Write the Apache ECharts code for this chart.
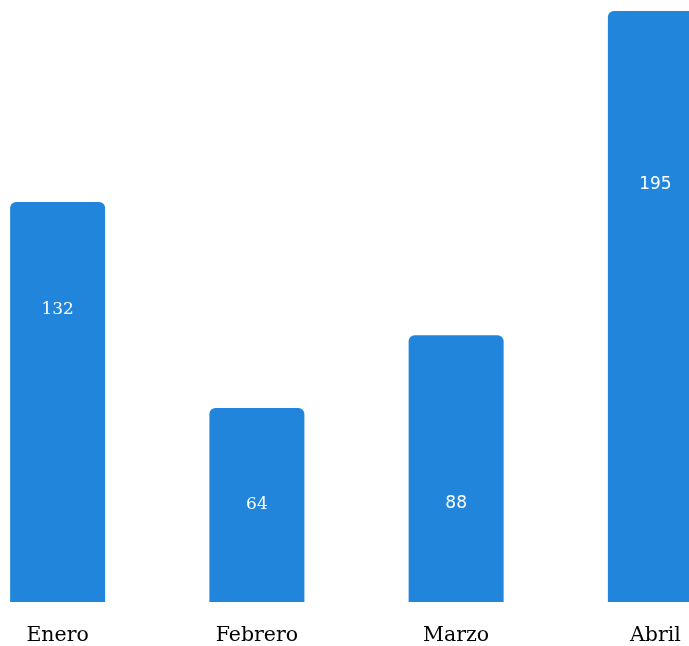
<!DOCTYPE html>
<html>
<head>
<meta charset="utf-8">
<script src="https://cdn.jsdelivr.net/npm/echarts@6/dist/echarts.min.js"></script>
<style>html,body{margin:0;padding:0;background:#fff;overflow:hidden;width:689px;height:646px;position:relative;}#c{position:absolute;left:-42px;top:0;width:797px;height:646px;}</style>
</head>
<body>
<div id="c"></div>
<script>
const categories = ['Enero', 'Febrero', 'Marzo', 'Abril'];
const values = [132, 64, 88, 195];
const labelFonts = ['DejaVu Serif', 'DejaVu Serif', 'DejaVu Sans', 'DejaVu Sans'];
const labelSpots = ['27%', '50%', '63%', '29.4%'];

const chart = echarts.init(document.getElementById('c'));
chart.setOption({
  animation: false,
  backgroundColor: '#ffffff',
  grid: { left: 0, right: 0, top: 11, bottom: 42, containLabel: false },
  xAxis: {
    type: 'category',
    data: categories,
    axisLine: { show: false },
    axisTick: { show: false },
    axisLabel: { color: '#000', fontFamily: 'DejaVu Serif', fontSize: 20.5, margin: 23 }
  },
  yAxis: {
    type: 'value', min: 0, max: 195,
    show: false, splitLine: { show: false }
  },
  series: [{
    type: 'bar',
    barWidth: 95,
    itemStyle: { color: '#2185dc', borderRadius: [6, 6, 0, 0] },
    data: values.map((v, i) => ({
      value: v,
      label: {
        show: true,
        position: ['50%', labelSpots[i]],
        align: 'center',
        verticalAlign: 'middle',
        color: '#ffffff',
        fontSize: 17,
        fontFamily: labelFonts[i]
      }
    }))
  }]
});
</script>
</body>
</html>
